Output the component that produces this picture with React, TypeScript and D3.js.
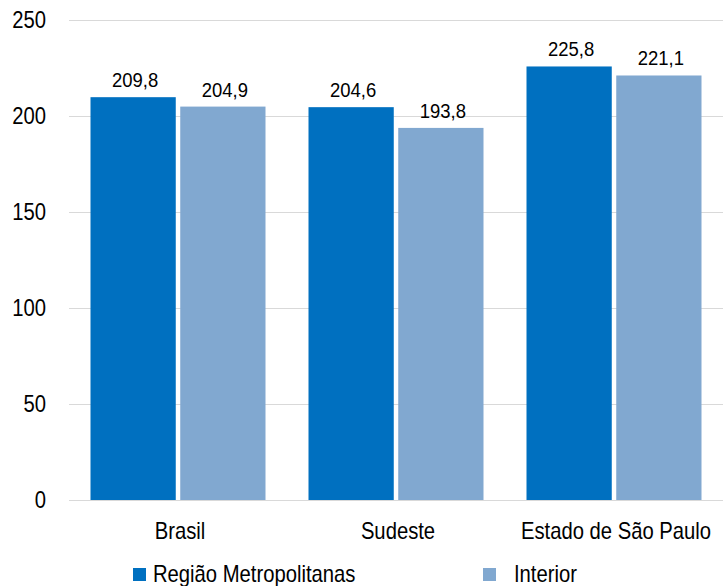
import { useEffect, useRef } from "react"
import * as d3 from "d3"

const categories = ["Brasil", "Sudeste", "Estado de São Paulo"]
const seriesNames = ["Região Metropolitanas", "Interior"]
const metroValues = [209.8, 204.6, 225.8]
const interiorValues = [204.9, 193.8, 221.1]
const yTicks = [0, 50, 100, 150, 200, 250]

const colors = ["#0070C0", "#81A8D0"]
const font = "'Liberation Sans', Arial, sans-serif"
const squeeze = 0.88 // narrow the glyphs like the original Arial Narrow text

export default function App() {
    const svgRef = useRef<SVGSVGElement | null>(null)

    useEffect(() => {
        if (!svgRef.current) return
        const svg = d3.select(svgRef.current)
        svg.selectAll("*").remove()

        const left = 69, right = 723, top = 20, bottom = 500

        const x = d3.scaleBand<string>().domain(categories).range([left, right]).padding(0)
        const xInner = d3.scaleBand<string>()
            .domain(seriesNames)
            .range([21.5, x.bandwidth() - 21.5])
            .paddingInner(0.05)
            .paddingOuter(0)
        const y = d3.scaleLinear().domain([0, 250]).range([bottom, top])

        const at = (px: number, py: number) => `translate(${px},${py}) scale(${squeeze},1)`

        // grid
        svg.append("g")
            .selectAll("line")
            .data(yTicks)
            .join("line")
            .attr("x1", left)
            .attr("x2", right)
            .attr("y1", d => y(d) + 0.5)
            .attr("y2", d => y(d) + 0.5)
            .attr("stroke", "#d9d9d9")
            .attr("stroke-width", 1)

        // y labels
        svg.append("g")
            .selectAll("text")
            .data(yTicks)
            .join("text")
            .attr("transform", d => at(46, y(d) + 8))
            .attr("text-anchor", "end")
            .attr("font-family", font)
            .attr("font-size", 23)
            .attr("fill", "#000")
            .text(d => d)

        const rows = categories.map((c, i) => ({ cat: c, vals: [metroValues[i], interiorValues[i]] }))

        const groups = svg.append("g")
            .selectAll("g")
            .data(rows)
            .join("g")
            .attr("transform", d => `translate(${x(d.cat)},0)`)

        groups.selectAll("rect")
            .data(d => d.vals.map((v, j) => ({ name: seriesNames[j], v, j })))
            .join("rect")
            .attr("x", d => xInner(d.name)!)
            .attr("width", xInner.bandwidth())
            .attr("y", d => y(d.v))
            .attr("height", d => y(0) - y(d.v))
            .attr("fill", d => colors[d.j])

        groups.selectAll("text")
            .data(d => d.vals.map((v, j) => ({ name: seriesNames[j], v })))
            .join("text")
            .attr("transform", d => at(xInner(d.name)! + xInner.bandwidth() / 2 + 2, y(d.v) - 10))
            .attr("text-anchor", "middle")
            .attr("font-family", font)
            .attr("font-size", 21)
            .attr("fill", "#000")
            .text(d => d3.format(".1f")(d.v).replace(".", ","))

        // x labels
        svg.append("g")
            .selectAll("text")
            .data(categories)
            .join("text")
            .attr("transform", d => at(x(d)! + x.bandwidth() / 2 + 2, 539))
            .attr("text-anchor", "middle")
            .attr("font-family", font)
            .attr("font-size", 23)
            .attr("fill", "#000")
            .text(d => d)

        // legend
        const legendItems = [
            { name: seriesNames[0], sx: 133, tx: 153, color: colors[0] },
            { name: seriesNames[1], sx: 483, tx: 514, color: colors[1] },
        ]
        const lg = svg.append("g")
        legendItems.forEach(it => {
            lg.append("rect")
                .attr("x", it.sx)
                .attr("y", 568)
                .attr("width", 13)
                .attr("height", 13)
                .attr("fill", it.color)
            lg.append("text")
                .attr("transform", at(it.tx, 582))
                .attr("font-family", font)
                .attr("font-size", 23)
                .attr("fill", "#000")
                .text(it.name)
        })
    }, [])

    return (
        <div style={{ position: "absolute", left: 0, top: 0, width: 728, height: 586, background: "#fff" }}>
            <svg ref={svgRef} width={728} height={586} style={{ display: "block" }} />
        </div>
    )
}
